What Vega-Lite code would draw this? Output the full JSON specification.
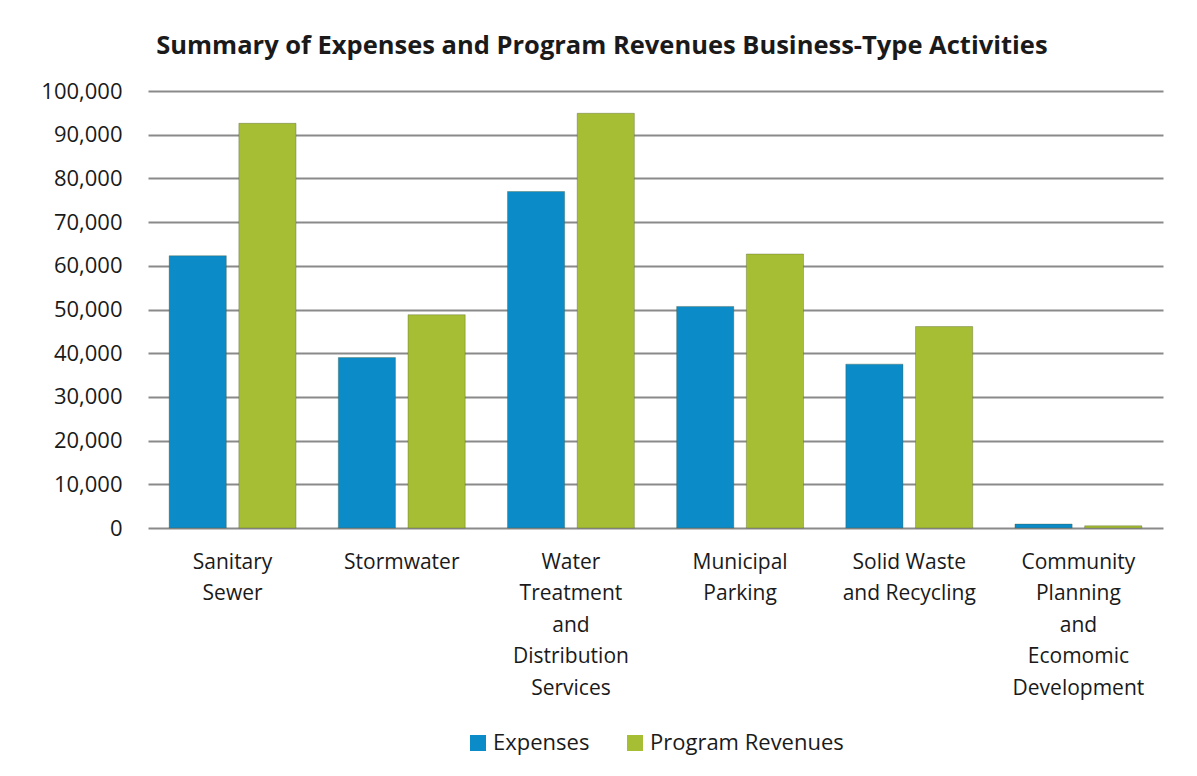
{
  "$schema": "https://vega.github.io/schema/vega-lite/v6.json",
  "autosize": {"type": "none"},
  "width": 1015,
  "height": 437,
  "padding": {"left": 148, "top": 91, "right": 34, "bottom": 248},
  "background": "white",
  "title": {
    "text": "Summary of Expenses and Program Revenues  Business-Type Activities",
    "fontSize": 25.5,
    "font": "Open Sans",
    "fontWeight": "bold",
    "color": "#1a1a1a",
    "anchor": "middle",
    "frame": "bounds",
    "offset": 21
  },
  "data": {
    "values": [
      {"activity": "Sanitary|Sewer", "order": 1, "type": "Expenses", "amount": 62300},
      {"activity": "Sanitary|Sewer", "order": 1, "type": "Program Revenues", "amount": 92600},
      {"activity": "Stormwater", "order": 2, "type": "Expenses", "amount": 39000},
      {"activity": "Stormwater", "order": 2, "type": "Program Revenues", "amount": 48800},
      {"activity": "Water|Treatment|and|Distribution|Services", "order": 3, "type": "Expenses", "amount": 77000},
      {"activity": "Water|Treatment|and|Distribution|Services", "order": 3, "type": "Program Revenues", "amount": 94900},
      {"activity": "Municipal|Parking", "order": 4, "type": "Expenses", "amount": 50700},
      {"activity": "Municipal|Parking", "order": 4, "type": "Program Revenues", "amount": 62700},
      {"activity": "Solid Waste|and Recycling", "order": 5, "type": "Expenses", "amount": 37500},
      {"activity": "Solid Waste|and Recycling", "order": 5, "type": "Program Revenues", "amount": 46100},
      {"activity": "Community|Planning|and|Ecomomic|Development", "order": 6, "type": "Expenses", "amount": 900},
      {"activity": "Community|Planning|and|Ecomomic|Development", "order": 6, "type": "Program Revenues", "amount": 500}
    ]
  },
  "mark": {"type": "bar", "stroke": "#4a5a30", "strokeWidth": 1, "strokeOpacity": 0.35},
  "encoding": {
    "x": {
      "field": "activity",
      "type": "nominal",
      "sort": {"field": "order"},
      "scale": {"paddingInner": 0.25, "paddingOuter": 0.125},
      "axis": {
        "title": null,
        "labelAngle": 0,
        "labelExpr": "split(datum.label, '|')",
        "labelFont": "Open Sans",
        "labelFontSize": 21,
        "labelColor": "#1a1a1a",
        "labelLineHeight": 31.5,
        "labelPadding": 23,
        "labelBaseline": "top",
        "ticks": false,
        "domain": false,
        "labelLimit": 300
      }
    },
    "xOffset": {
      "field": "type",
      "type": "nominal",
      "scale": {"paddingInner": 0.18}
    },
    "y": {
      "field": "amount",
      "type": "quantitative",
      "scale": {"domain": [0, 100000]},
      "axis": {
        "title": null,
        "values": [0, 10000, 20000, 30000, 40000, 50000, 60000, 70000, 80000, 90000, 100000],
        "format": ",d",
        "labelFont": "Open Sans",
        "labelFontSize": 22,
        "labelColor": "#1a1a1a",
        "labelPadding": 26,
        "labelOverlap": false,
        "ticks": false,
        "domain": false,
        "grid": true,
        "gridColor": "#8a8a8a",
        "gridWidth": 2
      }
    },
    "color": {
      "field": "type",
      "type": "nominal",
      "scale": {"domain": ["Expenses", "Program Revenues"], "range": ["#0b8bc8", "#a6be34"]},
      "legend": {
        "title": null,
        "orient": "bottom",
        "direction": "horizontal",
        "symbolType": "square",
        "symbolSize": 256,
        "symbolStrokeWidth": 0,
        "labelFont": "Open Sans",
        "labelFontSize": 22,
        "labelColor": "#1a1a1a",
        "columnPadding": 34,
        "offset": 34,
        "labelLimit": 300
      }
    }
  },
  "config": {
    "view": {"stroke": null},
    "legend": {"layout": {"bottom": {"anchor": "middle"}}}
  }
}
